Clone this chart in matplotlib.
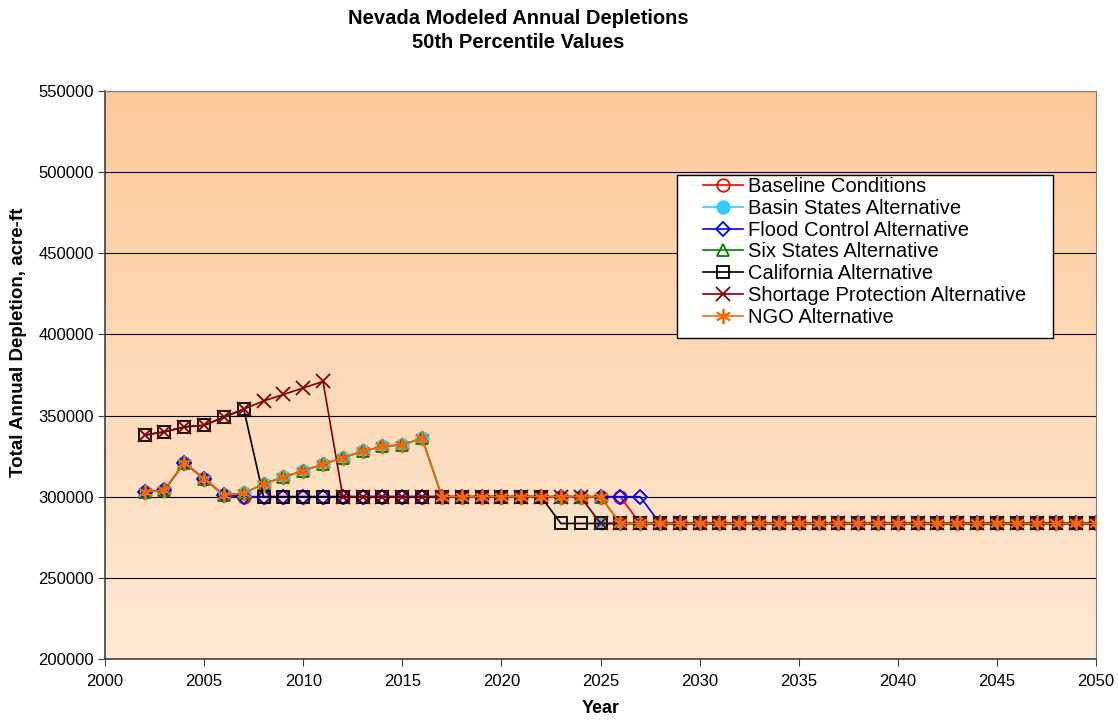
import numpy as np
import matplotlib
matplotlib.use("Agg")
import matplotlib.pyplot as plt
from matplotlib.colors import LinearSegmentedColormap
from matplotlib.patches import Rectangle

plt.rcParams["font.family"] = ["Liberation Sans", "DejaVu Sans"]

# --- data (acre-ft) ---
years = list(range(2002, 2051))

early = [303000, 304000, 321000, 311000, 301000]                 # 2002-2006
ramp = [302000, 308000, 312000, 316000, 320000, 324000,
        328000, 331000, 332000, 336000]                            # 2007-2016
high = [338000, 340000, 343000, 344000, 349000, 354000]           # 2002-2007
shortage_peak = [359000, 363000, 367000, 371000]                  # 2008-2011
mid = 300000
low = 283500

baseline = early + [mid] * 20 + [low] * 24
basin = early + ramp + [mid] * 8 + [low] * 26
flood = early + [mid] * 21 + [low] * 23
six = early + ramp + [mid] * 9 + [low] * 25
california = high + [mid] * 15 + [low] * 28
shortage = high + shortage_peak + [mid] * 13 + [low] * 26
ngo = early + ramp + [mid] * 9 + [low] * 25

series = [
    ("Baseline Conditions", baseline, "#FF0000", "o", "none", 9),
    ("Basin States Alternative", basin, "#33CCFF", "o", "#33CCFF", 9),
    ("Flood Control Alternative", flood, "#0000FF", "D", "none", 7),
    ("Six States Alternative", six, "#008000", "^", "none", 9),
    ("California Alternative", california, "#000000", "s", "none", 9),
    ("Shortage Protection Alternative", shortage, "#800000", "x", "none", 10),
    ("NGO Alternative", ngo, "#FF6600", (6, 2, 0), "none", 11),
]

fig = plt.figure(figsize=(11.18, 7.21), dpi=100)
ax = fig.add_axes([105 / 1118, 62 / 721, 991 / 1118, 568 / 721])

# gradient plot area
cmap = LinearSegmentedColormap.from_list("peach", ["#FEE9D4", "#FDCA9B"])
grad = np.linspace(0, 1, 256).reshape(-1, 1)
ax.imshow(grad, cmap=cmap, origin="lower", aspect="auto",
          extent=[2000, 2050, 200000, 550000], zorder=0)

for name, vals, col, mk, fc, ms in series:
    ax.plot(years, vals, color=col, lw=1.2, marker=mk, markersize=ms,
            markerfacecolor=fc, markeredgecolor=col, markeredgewidth=1.3,
            label=name, zorder=3)

ax.set_xlim(2000, 2050)
ax.set_ylim(200000, 550000)
ax.set_xticks(range(2000, 2051, 5))
ax.set_yticks(range(200000, 550001, 50000))
ax.tick_params(direction="out", length=5, labelsize=12, color="#404040")
ax.tick_params(axis="x", pad=6)
ax.tick_params(axis="y", pad=3)
ax.yaxis.grid(True, color="#000000", lw=0.8)
ax.set_axisbelow(True)

for s in ("top", "right"):
    ax.spines[s].set_color("#808080")
for s in ("left", "bottom"):
    ax.spines[s].set_color("#404040")
    ax.spines[s].set_linewidth(1.2)

ax.set_xlabel("Year", fontsize=13, fontweight="bold", labelpad=8)
ax.set_ylabel("Total Annual Depletion, acre-ft", fontsize=13.5,
              fontweight="bold")
ax.yaxis.set_label_coords(-0.079, (659 - 342) / 568)

fig.text(518 / 1118, 1 - 18 / 721, "Nevada Modeled Annual Depletions",
         ha="center", va="center", fontsize=14.5, fontweight="bold")
fig.text(518 / 1118, 1 - 43 / 721, "50th Percentile Values",
         ha="center", va="center", fontsize=14.5, fontweight="bold")

# legend box drawn separately so the wide side padding can match
box = Rectangle((677 / 1118, 1 - 338 / 721), 376 / 1118, 163 / 721,
                transform=fig.transFigure, facecolor="white",
                edgecolor="#000000", lw=1.0, zorder=4)
fig.add_artist(box)
leg = fig.legend(*ax.get_legend_handles_labels(), loc="upper left",
                 bbox_to_anchor=(703 / 1118, 1 - 177 / 721),
                 fontsize=14.5, frameon=False, borderpad=0,
                 labelspacing=0.14, handlelength=2.0, handletextpad=0.25,
                 borderaxespad=0)
leg.set_zorder(5)

fig.savefig("out.png", dpi=100, facecolor="white")
